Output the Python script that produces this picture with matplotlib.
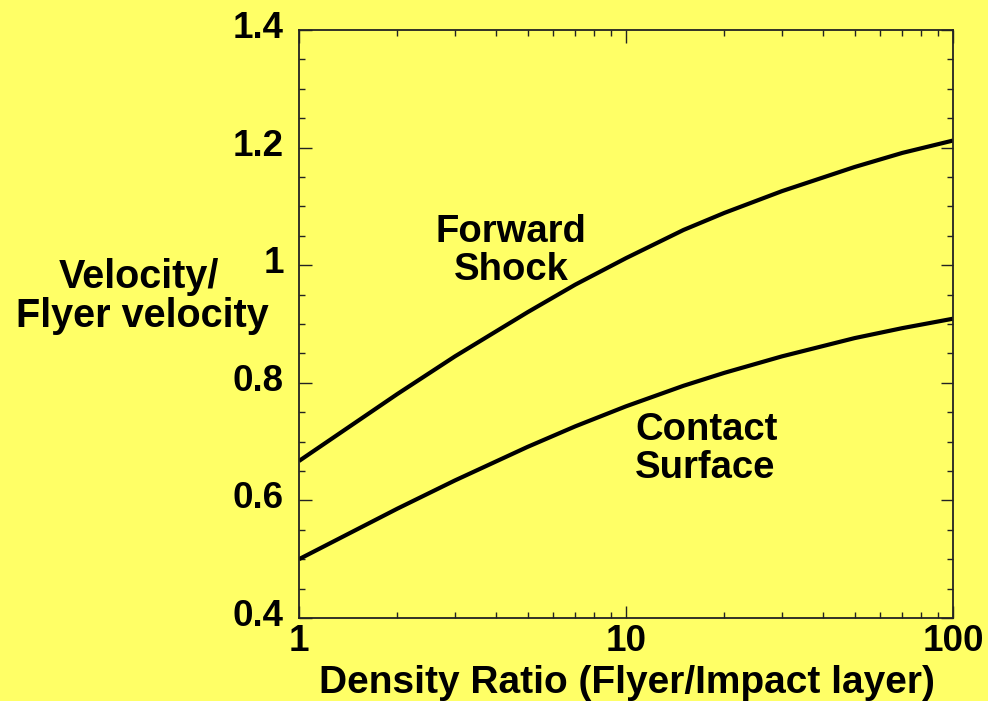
import matplotlib
matplotlib.use("Agg")
import matplotlib.pyplot as plt
import matplotlib.transforms as mtransforms
from matplotlib.ticker import LogLocator, FixedLocator, MultipleLocator, NullFormatter

plt.rcParams['font.family'] = ['Liberation Sans', 'DejaVu Sans']
plt.rcParams['font.weight'] = 'bold'

# Density ratio (flyer / impact layer)
density_ratio = [1, 2, 3, 5, 7, 10, 15, 20, 30, 50, 70, 100]
# Velocities normalised by the flyer velocity
forward_shock = [0.667, 0.781, 0.845, 0.920, 0.967, 1.012, 1.060, 1.089, 1.126, 1.167, 1.191, 1.212]
contact_surface = [0.500, 0.586, 0.634, 0.691, 0.726, 0.760, 0.795, 0.817, 0.845, 0.876, 0.893, 0.909]

x_ticks = [1, 10, 100]
x_ticklabels = ["1", "10", "100"]
y_ticks = [0.4, 0.6, 0.8, 1.0, 1.2, 1.4]
y_ticklabels = ["0.4", "0.6", "0.8", "1", "1.2", "1.4"]

bg = '#ffff66'
fig = plt.figure(figsize=(9.88, 7.01), dpi=100, facecolor=bg)
ax = fig.add_axes([0.3026, 0.1184, 0.662, 0.8388], facecolor=bg)

ax.plot(density_ratio, forward_shock, color='black', lw=3, solid_capstyle='butt')
ax.plot(density_ratio, contact_surface, color='black', lw=3, solid_capstyle='butt')

ax.set_xscale('log')
ax.set_xlim(1, 100)
ax.set_ylim(0.4, 1.4)

ax.xaxis.set_major_locator(FixedLocator(x_ticks))
ax.set_xticklabels(x_ticklabels)
ax.xaxis.set_minor_locator(LogLocator(base=10, subs=range(2, 10)))
ax.xaxis.set_minor_formatter(NullFormatter())
ax.yaxis.set_major_locator(FixedLocator(y_ticks))
ax.set_yticklabels(y_ticklabels)
ax.yaxis.set_minor_locator(MultipleLocator(0.05))

for s in ax.spines.values():
    s.set_linewidth(1.3)
    s.set_color('#222222')

ax.tick_params(which='both', direction='in', top=True, right=True, color='#222222', width=1.0)
ax.tick_params(which='major', length=9)
ax.tick_params(which='minor', length=4.5)
ax.tick_params(axis='x', which='major', labelsize=26.5, pad=4)
ax.tick_params(axis='y', which='major', labelsize=26.5, pad=11)

shift = mtransforms.ScaledTranslation(0, 4 / 72, fig.dpi_scale_trans)
for lab in ax.get_yticklabels():
    lab.set_transform(lab.get_transform() + shift)

# Axis titles
fig.text(0.635, 0.0114, "Density Ratio (Flyer/Impact layer)", fontsize=28,
         fontweight='bold', ha='center', va='baseline')
fig.text(0.1407, 0.5892, "Velocity/", fontsize=28.5, fontweight='bold',
         ha='center', va='baseline')
fig.text(0.1437, 0.5335, "Flyer velocity", fontsize=28.5, fontweight='bold',
         ha='center', va='baseline')

# Curve labels
fig.text(0.5172, 0.6548, "Forward", fontsize=27.5, fontweight='bold', ha='center', va='baseline')
fig.text(0.5177, 0.6006, "Shock", fontsize=27.5, fontweight='bold', ha='center', va='baseline')
fig.text(0.7156, 0.3723, "Contact", fontsize=27.5, fontweight='bold', ha='center', va='baseline')
fig.text(0.7136, 0.3181, "Surface", fontsize=27.5, fontweight='bold', ha='center', va='baseline')

fig.savefig("out.png", dpi=100, facecolor=bg)
